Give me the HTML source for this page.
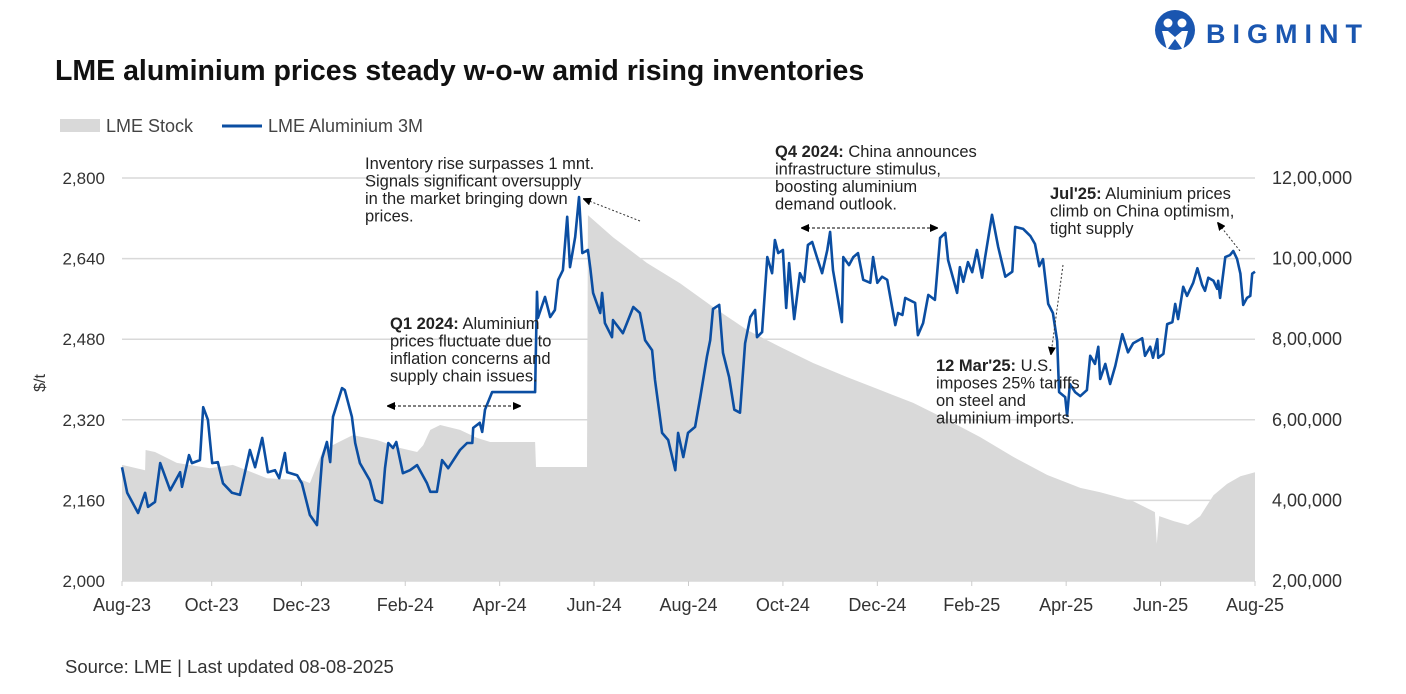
<!DOCTYPE html>
<html><head><meta charset="utf-8">
<style>
body{margin:0;background:#fff;font-family:"Liberation Sans",sans-serif;}
svg{display:block}
text{font-family:"Liberation Sans",sans-serif;}
</style></head>
<body>
<svg id="chart" width="1406" height="694" viewBox="0 0 1406 694">
  <g>
    <circle cx="1175" cy="30" r="20" fill="#1a56b0"/>
    <circle cx="1168" cy="23" r="4.5" fill="#fff"/>
    <circle cx="1182" cy="23" r="4.5" fill="#fff"/>
    <path d="M1162 31 L1167 50 L1175 39 L1183 50 L1188 31 L1182 31 L1175 37 L1168 31Z" fill="#fff"/>
    <text x="1206" y="43" font-size="27" font-weight="bold" fill="#1a56b0" letter-spacing="7">BIGMINT</text>
  </g>
  <text x="55" y="80" font-size="28.5" font-weight="bold" fill="#111">LME aluminium prices steady w-o-w amid rising inventories</text>
  <g>
    <rect x="60" y="119" width="40" height="13" fill="#d9d9d9"/>
    <text x="106" y="132" font-size="18" fill="#444">LME Stock</text>
    <line x1="222" y1="126" x2="262" y2="126" stroke="#0b4ea2" stroke-width="3"/>
    <text x="268" y="132" font-size="18" fill="#444">LME Aluminium 3M</text>
  </g>
  <g id="grid"></g>
  <path id="area" fill="#d9d9d9"/>
  <g id="axes"></g>
  <path id="line" fill="none" stroke="#0b4ea2" stroke-width="2.6" stroke-linejoin="round"/>
  <text transform="translate(45,383) rotate(-90)" font-size="16" fill="#333" text-anchor="middle">$/t</text>
  <defs>
    <marker id="ah" markerWidth="8" markerHeight="8" refX="7" refY="4" orient="auto-start-reverse" markerUnits="userSpaceOnUse"><path d="M0,0 L9,4 L0,8Z" fill="#000"/></marker>
  </defs>
  <g font-size="16.5" fill="#222">
    <text x="365" y="169"><tspan x="365">Inventory rise surpasses 1 mnt.</tspan><tspan x="365" dy="17.5">Signals significant oversupply</tspan><tspan x="365" dy="17.5">in the market bringing down</tspan><tspan x="365" dy="17.5">prices.</tspan></text>
    <line x1="640" y1="221" x2="584" y2="199" stroke="#333" stroke-dasharray="2,2" marker-end="url(#ah)"/>
    <text x="390" y="329"><tspan x="390" font-weight="bold">Q1 2024:</tspan> Aluminium<tspan x="390" dy="17.5">prices fluctuate due to</tspan><tspan x="390" dy="17.5">inflation concerns and</tspan><tspan x="390" dy="17.5">supply chain issues.</tspan></text>
    <line x1="388" y1="406" x2="520" y2="406" stroke="#000" stroke-dasharray="3,2" marker-start="url(#ah)" marker-end="url(#ah)"/>
    <text x="775" y="157"><tspan x="775" font-weight="bold">Q4 2024:</tspan> China announces<tspan x="775" dy="17.5">infrastructure stimulus,</tspan><tspan x="775" dy="17.5">boosting aluminium</tspan><tspan x="775" dy="17.5">demand outlook.</tspan></text>
    <line x1="802" y1="228" x2="937" y2="228" stroke="#000" stroke-dasharray="3,2" marker-start="url(#ah)" marker-end="url(#ah)"/>
    <text x="1050" y="199"><tspan x="1050" font-weight="bold">Jul'25:</tspan> Aluminium prices<tspan x="1050" dy="17.5">climb on China optimism,</tspan><tspan x="1050" dy="17.5">tight supply</tspan></text>
    <line x1="1240" y1="251" x2="1218" y2="223" stroke="#333" stroke-dasharray="2,2" marker-end="url(#ah)"/>
    <text x="936" y="371"><tspan x="936" font-weight="bold">12 Mar'25:</tspan> U.S.<tspan x="936" dy="17.5">imposes 25% tariffs</tspan><tspan x="936" dy="17.5">on steel and</tspan><tspan x="936" dy="17.5">aluminium imports.</tspan></text>
    <line x1="1063" y1="265" x2="1051" y2="354" stroke="#333" stroke-dasharray="2,2" marker-end="url(#ah)"/>
  </g>
  <text x="65" y="673" font-size="18.5" fill="#333">Source: LME | Last updated 08-08-2025</text>
</svg>
<script>
// months since Aug-23
const priceMonths=[0,.11,.34,.49,.55,.70,.81,1.02,1.23,1.27,1.42,1.48,1.65,1.72,1.82,1.91,2.03,2.14,2.33,2.50,2.71,2.82,2.97,3.09,3.24,3.33,3.45,3.50,3.71,3.81,3.98,4.13,4.24,4.34,4.41,4.47,4.66,4.72,4.87,4.94,5.04,5.25,5.36,5.51,5.57,5.64,5.74,5.81,5.95,6.10,6.25,6.46,6.53,6.67,6.78,6.91,7.16,7.31,7.42,7.44,7.58,7.63,7.69,7.84,8.75,8.79,8.81,8.96,9.07,9.17,9.24,9.34,9.43,9.49,9.60,9.68,9.75,9.87,9.92,9.98,10.13,10.17,10.23,10.38,10.40,10.61,10.72,10.83,10.97,11.08,11.23,11.29,11.44,11.57,11.72,11.78,11.89,11.99,12.14,12.25,12.39,12.46,12.52,12.65,12.73,12.86,12.97,13.09,13.20,13.31,13.41,13.45,13.56,13.67,13.77,13.83,13.90,14.00,14.07,14.13,14.24,14.36,14.45,14.53,14.62,14.72,14.83,14.94,15.00,15.06,15.25,15.28,15.40,15.49,15.59,15.70,15.85,15.91,16.00,16.10,16.21,16.38,16.44,16.53,16.59,16.80,16.86,16.97,17.08,17.22,17.33,17.44,17.50,17.69,17.75,17.82,17.92,18.01,18.11,18.22,18.28,18.43,18.56,18.71,18.86,18.92,19.09,19.24,19.34,19.43,19.51,19.62,19.72,19.81,19.85,19.98,20.02,20.08,20.19,20.30,20.44,20.51,20.61,20.68,20.72,20.83,20.93,21.04,21.19,21.31,21.42,21.61,21.67,21.78,21.84,21.93,21.95,22.06,22.14,22.25,22.31,22.37,22.48,22.56,22.69,22.78,22.88,22.94,23.01,23.12,23.20,23.22,23.26,23.37,23.47,23.54,23.62,23.69,23.75,23.83,23.90,23.94,24.00];
const priceValues=[2226,2175,2135,2175,2147,2157,2234,2180,2216,2187,2250,2234,2240,2345,2320,2234,2236,2194,2175,2171,2260,2226,2284,2216,2220,2204,2254,2216,2210,2194,2131,2111,2244,2276,2236,2326,2383,2379,2326,2274,2234,2200,2161,2155,2224,2274,2264,2276,2214,2220,2230,2194,2177,2177,2240,2224,2260,2274,2274,2304,2314,2296,2340,2375,2375,2574,2522,2564,2524,2538,2598,2617,2723,2623,2683,2762,2651,2657,2621,2572,2532,2572,2512,2484,2518,2492,2518,2544,2532,2478,2458,2399,2294,2280,2220,2294,2246,2294,2306,2365,2445,2478,2540,2548,2453,2405,2340,2334,2472,2524,2538,2484,2494,2643,2611,2677,2651,2657,2542,2631,2520,2611,2594,2667,2673,2643,2611,2657,2693,2617,2514,2643,2627,2643,2651,2598,2592,2643,2592,2604,2598,2508,2532,2528,2562,2552,2488,2512,2568,2558,2681,2691,2637,2572,2623,2594,2633,2613,2657,2602,2641,2727,2663,2604,2614,2703,2699,2685,2669,2625,2639,2550,2532,2476,2375,2365,2328,2391,2375,2367,2379,2447,2431,2465,2401,2431,2391,2427,2490,2454,2472,2482,2447,2465,2443,2480,2443,2451,2510,2514,2550,2520,2584,2566,2592,2621,2588,2576,2602,2596,2580,2596,2562,2643,2647,2655,2639,2610,2548,2562,2566,2610,2614];
const stockMonths=[0,.49,.50,.70,1.16,1.86,2.35,3.07,3.83,3.98,4.26,4.68,4.89,5.40,5.89,6.25,6.38,6.53,6.74,7.16,7.52,7.80,8.75,8.77,9.85,9.87,10.40,11.12,11.82,12.52,13.24,13.94,14.64,15.36,16.06,16.76,17.48,18.18,18.88,19.60,20.30,20.72,21.42,21.88,21.92,21.97,22.27,22.58,22.84,23.12,23.41,23.69,24];
const stockValues=[488000,475000,525000,520000,493000,480000,488000,455000,450000,443000,525000,550000,562000,550000,530000,520000,537000,575000,587000,575000,555000,545000,545000,483000,483000,1108000,1053000,989000,939000,880000,823000,781000,741000,706000,674000,642000,600000,557000,508000,463000,431000,420000,398000,371000,292000,361000,349000,339000,361000,413000,441000,460000,470000];
const leftTicks=[2000,2160,2320,2480,2640,2800];
const leftTickLabels=["2,000","2,160","2,320","2,480","2,640","2,800"];
const rightTickLabels=["2,00,000","4,00,000","6,00,000","8,00,000","10,00,000","12,00,000"];
const xTickMonths=[0,1.9,3.8,6,8,10,12,14,16,18,20,22,24];
const xTickLabels=["Aug-23","Oct-23","Dec-23","Feb-24","Apr-24","Jun-24","Aug-24","Oct-24","Dec-24","Feb-25","Apr-25","Jun-25","Aug-25"];

const X0=122,X1=1255,Y0=581,Y1=178;
const xs=m=>X0+(m/24)*(X1-X0);
const yL=v=>Y0-(v-2000)/800*(Y0-Y1);
const yR=v=>Y0-(v-200000)/1000000*(Y0-Y1);
const NS="http://www.w3.org/2000/svg";
const grid=document.getElementById('grid'),axes=document.getElementById('axes');
leftTicks.forEach((t,i)=>{
  const y=yL(t);
  if(i>0){const l=document.createElementNS(NS,'line');
    l.setAttribute('x1',X0);l.setAttribute('x2',X1);l.setAttribute('y1',y);l.setAttribute('y2',y);
    l.setAttribute('stroke','#d9d9d9');l.setAttribute('stroke-width','1.5');
    
    
    grid.appendChild(l);}
  const tx=document.createElementNS(NS,'text');
  tx.setAttribute('x',105);tx.setAttribute('y',y+6);tx.setAttribute('text-anchor','end');
  tx.setAttribute('font-size','17');tx.setAttribute('fill','#333');tx.textContent=leftTickLabels[i];
  
  
  axes.appendChild(tx);
  const tr=document.createElementNS(NS,'text');
  tr.setAttribute('x',1272);tr.setAttribute('y',y+6);
  tr.setAttribute('font-size','18');tr.setAttribute('fill','#333');tr.textContent=rightTickLabels[i];
  
  
  axes.appendChild(tr);
});
let ad=`M${xs(stockMonths[0])},${Y0}`;
stockMonths.forEach((m,i)=>{ad+=` L${xs(m).toFixed(1)},${yR(stockValues[i]).toFixed(1)}`;});
ad+=` L${xs(stockMonths[stockMonths.length-1])},${Y0}Z`;
document.getElementById('area').setAttribute('d',ad);
const ax=document.createElementNS(NS,'line');
ax.setAttribute('x1',X0);ax.setAttribute('x2',X1);ax.setAttribute('y1',Y0);ax.setAttribute('y2',Y0);
ax.setAttribute('stroke','#d9d9d9');ax.setAttribute('stroke-width','1.5');


axes.appendChild(ax);
xTickMonths.forEach((m,i)=>{
  const x=xs(m);
  const t=document.createElementNS(NS,'line');
  t.setAttribute('x1',x);t.setAttribute('x2',x);t.setAttribute('y1',Y0);t.setAttribute('y2',Y0+5);
  t.setAttribute('stroke','#ccc');
  
  
  axes.appendChild(t);
  const tx=document.createElementNS(NS,'text');
  tx.setAttribute('x',x);tx.setAttribute('y',611);tx.setAttribute('text-anchor','middle');
  tx.setAttribute('font-size','18');tx.setAttribute('fill','#333');tx.textContent=xTickLabels[i];
  
  
  axes.appendChild(tx);
});
let ld='';
priceMonths.forEach((m,i)=>{ld+=(i?' L':'M')+xs(m).toFixed(1)+','+yL(priceValues[i]).toFixed(1);});
document.getElementById('line').setAttribute('d',ld);
</script>
</body></html>
